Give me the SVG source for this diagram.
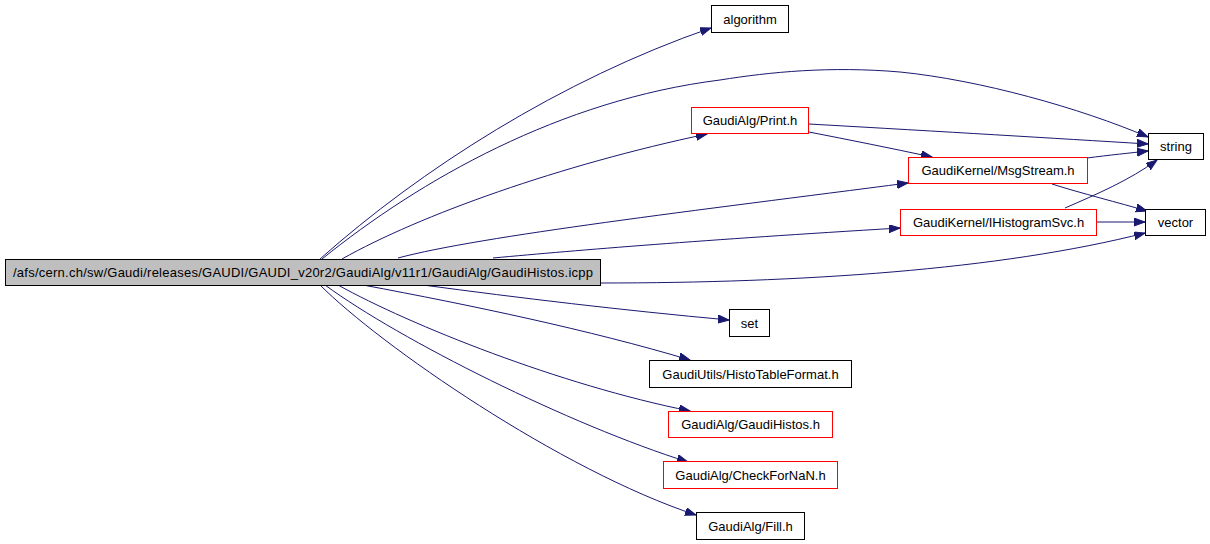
<svg xmlns="http://www.w3.org/2000/svg" width="1210" height="544" viewBox="0 0 1210 544">
<defs>
<style>
.n rect{fill:#ffffff;stroke:#000000;stroke-width:1}
.n.red rect{stroke:#ff0000}
.n.main rect{fill:#bfbfbf}
.n text{font-family:"Liberation Sans",Arial,sans-serif;font-size:13px;fill:#000000;text-anchor:middle}
.e path{fill:none;stroke:#191970;stroke-width:1;marker-end:url(#ah)}
</style>
<marker id="ah" markerUnits="userSpaceOnUse" markerWidth="13" markerHeight="9" refX="11" refY="4" orient="auto">
<path d="M0,0 L11,4 L0,8 z" fill="#191970" stroke="#191970" stroke-width="1"/>
</marker>
</defs>
<rect width="1210" height="544" fill="#ffffff"/>
<g id="edges" class="e">
<path d="M320,259 C420,170 560,80 711,28"/>
<path d="M322,259 C420,180 560,100 720,80 C770,72 830,66 900,72 C980,80 1080,108 1148,137"/>
<path d="M342,259 C420,215 560,165 707,134"/>
<path d="M398,258 C480,236 700,210 908,183"/>
<path d="M493,258 C580,250 700,240 900,228"/>
<path d="M600,283 C800,283 1000,270 1145,233"/>
<path d="M809,124 C950,132 1050,138 1148,144"/>
<path d="M809,132 C850,140 890,148 932,157"/>
<path d="M1087,158 C1110,155 1130,153 1148,151"/>
<path d="M1052,184 C1080,193 1120,203 1147,211"/>
<path d="M1065,208 C1095,195 1130,180 1157,160"/>
<path d="M1097,222 L1145,222"/>
<path d="M423,285 C520,298 620,310 729,320"/>
<path d="M363,285 C470,305 590,330 690,360"/>
<path d="M338,285 C410,325 560,385 690,411"/>
<path d="M325,285 C400,340 570,425 688,462"/>
<path d="M320,285 C380,345 560,470 696,515"/>
</g>
<g id="node-main" class="n main"><rect x="5.5" y="259.5" width="595" height="26"/><text x="303" y="277" textLength="580" lengthAdjust="spacing">/afs/cern.ch/sw/Gaudi/releases/GAUDI/GAUDI_v20r2/GaudiAlg/v11r1/GaudiAlg/GaudiHistos.icpp</text></g>
<g id="node-algorithm" class="n"><rect x="711.5" y="5.5" width="77" height="27"/><text x="750" y="23.5">algorithm</text></g>
<g id="node-print" class="n red"><rect x="691.5" y="107.5" width="117" height="26"/><text x="750" y="125">GaudiAlg/Print.h</text></g>
<g id="node-string" class="n"><rect x="1148.5" y="133.5" width="55" height="26"/><text x="1176" y="151">string</text></g>
<g id="node-msgstream" class="n red"><rect x="908.5" y="157.5" width="179" height="26"/><text x="998" y="175">GaudiKernel/MsgStream.h</text></g>
<g id="node-ihistosvc" class="n red"><rect x="900.5" y="209.5" width="196" height="26"/><text x="998.5" y="227">GaudiKernel/IHistogramSvc.h</text></g>
<g id="node-vector" class="n"><rect x="1145.5" y="209.5" width="60" height="26"/><text x="1175.5" y="227">vector</text></g>
<g id="node-set" class="n"><rect x="729.5" y="309.5" width="40" height="27"/><text x="749.5" y="327.5">set</text></g>
<g id="node-histotable" class="n"><rect x="649.5" y="360.5" width="202" height="27"/><text x="750.5" y="378.5">GaudiUtils/HistoTableFormat.h</text></g>
<g id="node-gaudihistos" class="n red"><rect x="668.5" y="411.5" width="164" height="26"/><text x="750.5" y="429">GaudiAlg/GaudiHistos.h</text></g>
<g id="node-checkfornan" class="n red"><rect x="663.5" y="461.5" width="174" height="27"/><text x="750.5" y="479.5">GaudiAlg/CheckForNaN.h</text></g>
<g id="node-fill" class="n"><rect x="696.5" y="512.5" width="108" height="27"/><text x="750.5" y="530.5">GaudiAlg/Fill.h</text></g>
</svg>
